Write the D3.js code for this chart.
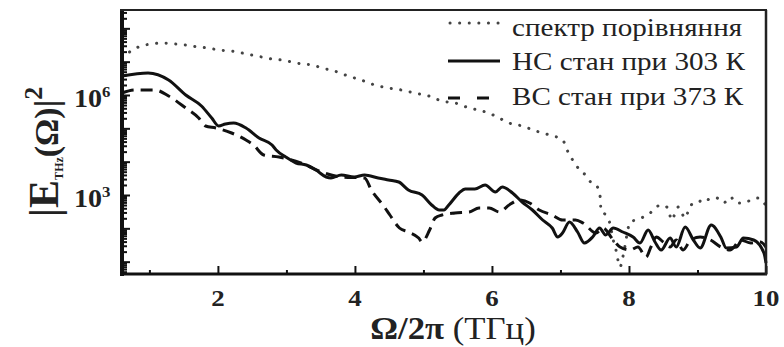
<!DOCTYPE html>
<html>
<head>
<meta charset="utf-8">
<script src="https://cdn.jsdelivr.net/npm/d3@7"></script>
<style>
  body { margin: 0; background: #fff; }
  svg { display: block; }
</style>
</head>
<body>
<svg id="chart"></svg>
<script>
// frequency in THz, intensity stored as log10(|E|^2)
const refFreq = [0.60, 0.64, 0.73, 0.88, 1.03, 1.17, 1.38, 1.53, 1.72, 1.86, 2.01, 2.20, 2.35, 2.49, 2.64, 2.79, 2.93, 3.08, 3.23, 3.38, 3.52, 3.70, 3.90, 4.09, 4.29, 4.49, 4.68, 4.87, 5.08, 5.27, 5.46, 5.67, 5.86, 6.05, 6.25, 6.44, 6.64, 6.84, 7.03, 7.13, 7.21, 7.30, 7.37, 7.44, 7.52, 7.58, 7.59, 7.66, 7.72, 7.77, 7.81, 7.87, 7.91, 8.02, 8.10, 8.21, 8.31, 8.38, 8.47, 8.57, 8.62, 8.72, 8.82, 8.90, 9.01, 9.09, 9.19, 9.28, 9.38, 9.48, 9.57, 9.67, 9.78, 9.87, 9.97, 10.0];
const refLog = [7.11, 7.17, 7.32, 7.47, 7.53, 7.56, 7.53, 7.50, 7.44, 7.41, 7.35, 7.32, 7.26, 7.20, 7.14, 7.08, 7.05, 6.99, 6.93, 6.90, 6.81, 6.72, 6.57, 6.45, 6.30, 6.21, 6.15, 6.06, 5.97, 5.82, 5.76, 5.61, 5.52, 5.37, 5.16, 5.07, 4.92, 4.80, 4.65, 4.20, 3.96, 3.69, 3.60, 3.39, 3.30, 2.94, 2.55, 2.40, 2.16, 1.65, 1.35, 0.84, 1.14, 2.19, 2.25, 2.34, 2.46, 2.61, 2.70, 2.61, 2.25, 2.64, 2.31, 2.70, 2.76, 2.91, 2.85, 2.91, 2.76, 2.94, 2.76, 2.76, 2.85, 2.91, 2.79, 2.55];

const hsFreq = [0.60, 0.98, 1.28, 1.53, 1.76, 1.91, 2.01, 2.11, 2.23, 2.41, 2.60, 2.79, 2.85, 2.99, 3.14, 3.29, 3.43, 3.58, 3.65, 3.80, 3.99, 4.14, 4.34, 4.49, 4.64, 4.78, 4.98, 5.12, 5.23, 5.30, 5.37, 5.52, 5.61, 5.75, 5.90, 6.05, 6.15, 6.30, 6.44, 6.59, 6.74, 6.88, 6.96, 7.03, 7.13, 7.25, 7.35, 7.47, 7.57, 7.66, 7.77, 7.91, 8.06, 8.16, 8.28, 8.38, 8.47, 8.60, 8.69, 8.82, 8.94, 9.04, 9.20, 9.34, 9.42, 9.57, 9.67, 9.82, 9.97, 10.0];
const hsLog = [6.57, 6.66, 6.45, 6.00, 5.67, 5.31, 5.07, 5.13, 5.16, 5.01, 4.71, 4.50, 4.35, 4.14, 3.96, 3.90, 3.75, 3.54, 3.51, 3.60, 3.54, 3.60, 3.51, 3.45, 3.39, 3.15, 3.00, 2.70, 2.55, 2.55, 2.70, 3.06, 3.18, 3.18, 3.30, 3.09, 3.24, 3.06, 2.79, 2.55, 2.25, 2.01, 1.74, 1.86, 2.19, 1.89, 1.56, 1.74, 2.01, 1.80, 2.01, 1.89, 1.74, 1.56, 1.95, 1.59, 1.35, 1.71, 1.44, 2.04, 1.65, 1.41, 2.10, 1.74, 1.41, 1.44, 1.71, 1.65, 1.26, 0.96];

const bsFreq = [0.60, 0.79, 1.08, 1.28, 1.53, 1.72, 1.82, 1.97, 2.20, 2.41, 2.52, 2.67, 2.89, 3.21, 3.51, 3.80, 4.14, 4.24, 4.43, 4.51, 4.65, 4.78, 4.93, 4.98, 5.09, 5.17, 5.27, 5.46, 5.67, 5.81, 5.96, 6.11, 6.25, 6.40, 6.55, 6.69, 6.88, 7.03, 7.22, 7.33, 7.52, 7.62, 7.77, 7.87, 8.02, 8.13, 8.25, 8.32, 8.40, 8.50, 8.60, 8.69, 8.79, 8.90, 9.04, 9.19, 9.34, 9.48, 9.63, 9.78, 9.92, 10.0];
const bsLog = [6.06, 6.15, 6.15, 5.97, 5.61, 5.31, 5.07, 5.01, 4.86, 4.65, 4.50, 4.20, 4.14, 3.96, 3.69, 3.54, 3.51, 3.15, 2.64, 2.40, 2.01, 1.89, 1.71, 1.59, 1.95, 2.31, 2.40, 2.46, 2.49, 2.61, 2.61, 2.49, 2.70, 2.85, 2.76, 2.55, 2.40, 2.25, 2.25, 2.16, 1.86, 2.01, 1.65, 1.44, 1.35, 1.44, 1.14, 1.44, 1.74, 1.59, 1.44, 1.65, 1.35, 1.65, 1.74, 1.65, 1.44, 1.35, 1.65, 1.56, 1.59, 1.44];

const seriesNames = ['спектр порівняння', 'НС стан при 303 К', 'ВС стан при 373 К'];
const xMajor = [2, 4, 6, 8, 10];
const xMinor = [1, 3, 5, 7, 9];
const yLabelExp = [3, 6];

const W = 784, H = 347;
const sx = 1.12; // source picture is a bit wider than tall
const serif = '"Liberation Serif", "Times New Roman", serif';

const svg = d3.select('#chart').attr('width', W).attr('height', H);

const x = d3.scaleLinear().domain([0.6, 10]).range([122, 766]);
const y = d3.scaleLog().domain([Math.pow(10, 0.63), Math.pow(10, 8.55)]).range([274, 10]);

const toPts = (f, l) => f.map((d, i) => [d, Math.pow(10, l[i])]);
const line = d3.line()
    .x(d => x(d[0]))
    .y(d => y(d[1]))
    .curve(d3.curveMonotoneX);

// curves
svg.append('path')
    .attr('d', line(toPts(refFreq, refLog)))
    .attr('fill', 'none')
    .attr('stroke', '#444')
    .attr('stroke-width', 3)
    .attr('stroke-linecap', 'round')
    .attr('stroke-dasharray', '0.1 9.5');

svg.append('path')
    .attr('d', line(toPts(bsFreq, bsLog)))
    .attr('fill', 'none')
    .attr('stroke', '#111')
    .attr('stroke-width', 3)
    .attr('stroke-dasharray', '12 7');

svg.append('path')
    .attr('d', line(toPts(hsFreq, hsLog)))
    .attr('fill', 'none')
    .attr('stroke', '#111')
    .attr('stroke-width', 3)
    .attr('stroke-linejoin', 'round');

// axes, ticks pointing into the plot
const xAxisMaj = d3.axisBottom(x).tickValues(xMajor).tickSize(-8).tickFormat('');
const xAxisMin = d3.axisBottom(x).tickValues(xMinor).tickSize(-4).tickFormat('');
svg.append('g').attr('transform', 'translate(0,274)').call(xAxisMaj);
svg.append('g').attr('transform', 'translate(0,274)').call(xAxisMin);

const decades = d3.range(1, 9).map(e => Math.pow(10, e));
const minors = [];
d3.range(0, 9).forEach(e => d3.range(2, 10).forEach(m => {
    const v = m * Math.pow(10, e);
    if (v > y.domain()[0] && v < y.domain()[1]) minors.push(v);
}));
svg.append('g').attr('transform', 'translate(122,0)')
    .call(d3.axisLeft(y).tickValues(decades).tickSize(-8).tickFormat(''));
svg.append('g').attr('transform', 'translate(122,0)')
    .call(d3.axisLeft(y).tickValues(minors).tickSize(-5).tickFormat(''));

svg.selectAll('.tick line').attr('stroke', '#111').attr('stroke-width', 2);
svg.selectAll('.domain').remove();

// frame
svg.append('line').attr('x1', 122).attr('x2', 122).attr('y1', 9).attr('y2', 276)
    .attr('stroke', '#111').attr('stroke-width', 4);
svg.append('line').attr('x1', 120).attr('x2', 767).attr('y1', 274).attr('y2', 274)
    .attr('stroke', '#111').attr('stroke-width', 3);
svg.append('line').attr('x1', 120).attr('x2', 767).attr('y1', 10).attr('y2', 10)
    .attr('stroke', '#222').attr('stroke-width', 2);
svg.append('line').attr('x1', 766).attr('x2', 766).attr('y1', 10).attr('y2', 275)
    .attr('stroke', '#222').attr('stroke-width', 2.5);

// tick labels
svg.selectAll('.xlab').data(xMajor).enter().append('text')
    .attr('transform', d => `translate(${x(d)},306) scale(${sx},1)`)
    .attr('text-anchor', 'middle')
    .attr('font-family', serif).attr('font-weight', 'bold').attr('font-size', 24)
    .attr('fill', '#222')
    .text(d => d);

const ylab = svg.selectAll('.ylab').data(yLabelExp).enter().append('text')
    .attr('transform', d => `translate(74,${y(Math.pow(10, d)) + 12}) scale(${sx},1)`)
    .attr('font-family', serif).attr('font-weight', 'bold').attr('font-size', 25)
    .attr('fill', '#222');
ylab.append('tspan').text('10');
ylab.append('tspan').attr('font-size', 15).attr('dy', -10).text(d => d);

// axis titles
const xt = svg.append('text')
    .attr('transform', `translate(453,339) scale(${sx},1)`)
    .attr('text-anchor', 'middle')
    .attr('font-family', serif).attr('font-size', 31).attr('fill', '#222');
xt.append('tspan').attr('font-weight', 'bold').text('Ω/2π');
xt.append('tspan').text(' (ТГц)');

const yt = svg.append('text')
    .attr('transform', 'translate(58,152) rotate(-90)')
    .attr('text-anchor', 'middle')
    .attr('font-family', serif).attr('font-weight', 'bold').attr('fill', '#222');
yt.append('tspan').attr('font-size', 42).text('|E');
yt.append('tspan').attr('font-size', 12).attr('dy', 5).text('THz');
yt.append('tspan').attr('font-size', 34).attr('dy', -5).text('(Ω)|');
yt.append('tspan').attr('font-size', 26).attr('dy', -16).text('2');

// legend
const legY = [23, 61, 98];
const leg = svg.append('g');
leg.append('line').attr('x1', 450).attr('x2', 500).attr('y1', legY[0]).attr('y2', legY[0])
    .attr('stroke', '#444').attr('stroke-width', 3).attr('stroke-linecap', 'round')
    .attr('stroke-dasharray', '0.1 9.5');
leg.append('line').attr('x1', 448).attr('x2', 500).attr('y1', legY[1]).attr('y2', legY[1])
    .attr('stroke', '#111').attr('stroke-width', 3);
leg.append('line').attr('x1', 448).attr('x2', 491).attr('y1', legY[2]).attr('y2', legY[2])
    .attr('stroke', '#111').attr('stroke-width', 3).attr('stroke-dasharray', '12 17');
leg.selectAll('text').data(seriesNames).enter().append('text')
    .attr('transform', (d, i) => `translate(512,${[36, 70, 105][i]}) scale(${sx},1)`)
    .attr('font-family', serif).attr('font-size', 26).attr('fill', '#222')
    .text(d => d);
</script>
</body>
</html>
